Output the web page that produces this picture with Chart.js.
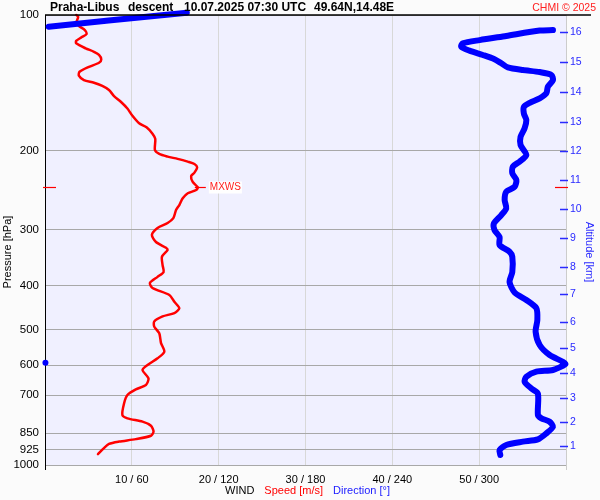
<!DOCTYPE html>
<html><head><meta charset="utf-8">
<script src="https://cdn.jsdelivr.net/npm/chart.js@4/dist/chart.umd.min.js"></script>
<style>html,body{margin:0;padding:0;background:#fbfbfb}#wrap{width:600px;height:500px}</style>
</head><body><div id="wrap"><canvas id="c" width="600" height="500"></canvas></div>
<script>
const titleParts = ["Praha-Libus", "descent", "10.07.2025 07:30 UTC", "49.64N,14.48E"];
const titleX = [50, 128, 184, 314];
const copyright = "CHMI © 2025";
const pressureTicks = [100, 200, 300, 400, 500, 600, 700, 850, 925, 1000];
const speedTicks = [10, 20, 30, 40, 50];
const altKm = [1, 2, 3, 4, 5, 6, 7, 8, 9, 10, 11, 12, 13, 14, 15, 16];
const altP = [907, 803, 710, 625, 550, 481, 417, 363, 313, 270, 233, 201, 173, 148, 127, 109];

const speedP = [100,101,104.3,105.8,108,110.2,112.1,114.2,115.6,118.6,
  120.7,122.7,125.5,127.7,130.4,133.7,136.4,139.5,141.4,143.8,
  146.8,151.4,155.9,161.4,167.5,174,177.6,183.5,188.5,199.5,
  203.6,206.4,208.8,211.8,214.3,218,224,228,235,241.5,
  244.8,249,255.5,264.4,271.2,282.8,289.9,297.4,308.2,319.5,
  329.1,332.8,344.5,359.4,372.4,381.9,394.1,404.2,419,433.9,
  448.4,459.5,467.4,479.7,492.6,509.8,535.8,560,579.3,599.5,
  615,642,664,679,699,729,774,787.5,801,818,
  842,861,876,887,897.5,917,946];
const speedV = [3.61,3.82,3.59,3.90,4.59,4.79,4.21,3.59,3.59,4.68,
  5.64,6.22,6.48,6.22,5.06,3.98,3.90,4.48,5.64,6.60,
  7.37,7.95,8.73,9.49,10.07,10.84,11.69,12.38,12.70,12.66,
  13.16,14.12,15.28,16.44,17.21,17.52,17.21,16.83,17.01,17.6,
  17.41,16.44,15.86,15.47,15.09,14.78,14.12,12.96,12.31,12.78,
  13.94,14.12,13.47,13.54,13.66,12.96,12.08,12.38,14.32,14.90,
  15.47,14.90,13.54,12.58,12.58,13.16,13.36,13.74,12.96,11.81,
  11.23,11.92,11.62,10.46,9.49,9.11,8.91,9.49,11.23,12.20,
  12.50,12.20,10.46,8.53,7.37,6.79,6.10];

const dirP = [108.0,108.3,111.3,113.7,115.6,117.6,120.0,122.7,125.4,128.0,
  130.7,132.5,133.9,135.9,139.5,144.3,149.3,153.2,156.7,160.0,
  165.6,171.1,178.6,186.5,194.5,204.7,211.8,217.2,224.8,232.6,
  240.9,247.1,257.7,268.9,278.3,290.4,300.5,311.4,324.4,335.7,
  344.5,372.4,392.2,413.7,429.9,448.2,476.2,505.5,541.2,569.6,
  589.9,597,615.0,620.2,636.6,653.4,676.1,694.2,774.3,787.5,
  801.3,822.3,850.5,876.8,887.4,902.7,926.1,950.1];
const dirD = [351.0,341.8,318.7,300.3,288.7,287.6,293.3,302.5,310.6,315.3,
  319.8,330.2,341.8,349.9,351.0,347.5,346.4,341.8,334.9,330.9,
  330.9,332.6,331.4,328.6,328.6,332.6,327.9,323.3,322.9,325.7,
  324.5,318.7,317.6,318.7,315.3,310.2,310.6,314.1,314.1,321.0,
  322.9,322.9,321.0,324.5,332.6,339.5,340.2,339.0,341.8,348.7,
  357.9,359.5,351.0,339.5,332.6,331.4,336.1,340.6,340.6,343.0,
  348.7,351.0,346.4,340.6,330.2,318.7,314.1,314.6];
const dirTopP = [106.2, 102.9, 98.8];
const dirTopD = [2.6, 44, 98];
const dirWrapP = [593];
const dirWrapD = [0.3];
const mxwsP = 241.5;
const mxwsV = 17.6;

Chart.defaults.font.family = 'Arial, "Liberation Sans", sans-serif';

const deco = {
  id: 'deco',
  beforeDraw(chart) {
    const {ctx, chartArea: a} = chart;
    ctx.save();
    ctx.fillStyle = '#fbfbfb';
    ctx.fillRect(0, 0, chart.width, chart.height);
    ctx.fillStyle = '#f0f0ff';
    ctx.fillRect(a.left, a.top, a.right - a.left, a.bottom - a.top);
    ctx.restore();
  },
  afterDraw(chart) {
    const {ctx, chartArea: a, scales} = chart;
    ctx.save();
    ctx.strokeStyle = '#000'; ctx.lineWidth = 1.5;
    ctx.beginPath(); ctx.moveTo(a.left, a.top); ctx.lineTo(591, a.top); ctx.stroke();
    ctx.lineWidth = 1;
    ctx.beginPath(); ctx.moveTo(a.left + 0.5, a.bottom); ctx.lineTo(a.left + 0.5, a.bottom + 5); ctx.stroke();
    ctx.strokeStyle = '#cccccc';
    ctx.beginPath(); ctx.moveTo(a.right + 0.5, a.bottom); ctx.lineTo(a.right + 0.5, a.bottom + 5); ctx.stroke();
    ctx.fillStyle = '#000';
    ctx.font = 'bold 12px Arial, "Liberation Sans", sans-serif';
    ctx.textBaseline = 'alphabetic';
    ctx.textAlign = 'left';
    titleParts.forEach((t, i) => ctx.fillText(t, titleX[i], 11));
    ctx.font = '10.5px Arial, "Liberation Sans", sans-serif';
    ctx.fillStyle = '#ff2020';
    ctx.textAlign = 'right';
    ctx.fillText(copyright, 596, 11);
    ctx.strokeStyle = '#2a2aff'; ctx.lineWidth = 1.5;
    altP.forEach(p => {
      const y = Math.round(scales.y2.getPixelForValue(p)) + 0.5;
      ctx.beginPath(); ctx.moveTo(a.right - 6, y); ctx.lineTo(a.right + 2, y); ctx.stroke();
    });
    const my = Math.round(scales.y.getPixelForValue(mxwsP)) + 0.5;
    const mx = scales.x.getPixelForValue(mxwsV);
    ctx.strokeStyle = '#ff0000'; ctx.lineWidth = 1.2;
    ctx.beginPath(); ctx.moveTo(a.left - 2, my); ctx.lineTo(a.left + 11, my); ctx.stroke();
    ctx.beginPath(); ctx.moveTo(a.right - 11, my); ctx.lineTo(a.right + 2, my); ctx.stroke();
    ctx.beginPath(); ctx.moveTo(mx - 3, my); ctx.lineTo(mx + 8, my); ctx.stroke();
    ctx.font = '10px Arial, "Liberation Sans", sans-serif';
    ctx.textAlign = 'left'; ctx.textBaseline = 'middle';
    const tw = ctx.measureText('MXWS').width;
    ctx.fillStyle = '#ffffff';
    ctx.fillRect(mx + 11, my - 6, tw + 2, 12);
    ctx.fillStyle = '#ff2020';
    ctx.fillText('MXWS', mx + 12, my);
    ctx.font = '11px Arial, "Liberation Sans", sans-serif';
    ctx.textAlign = 'center';
    ctx.fillStyle = '#000';
    ctx.save(); ctx.translate(8, 252); ctx.rotate(-Math.PI / 2); ctx.fillText('Pressure [hPa]', 0, 0); ctx.restore();
    ctx.fillStyle = '#2a2aff';
    ctx.save(); ctx.translate(589, 252); ctx.rotate(Math.PI / 2); ctx.fillText('Altitude [km]', 0, 0); ctx.restore();
    ctx.textAlign = 'left';
    const parts = [['WIND', '#000'], ['Speed [m/s]', '#ff0000'], ['Direction [°]', '#2020ff']];
    let x = 225;
    parts.forEach(([t, c]) => { ctx.fillStyle = c; ctx.fillText(t, x, 491); x += ctx.measureText(t).width + 10; });
    ctx.restore();
  }
};

const toPts = (ps, vs) => ps.map((p, i) => ({x: vs[i], y: p}));

new Chart(document.getElementById('c'), {
  type: 'scatter',
  data: {
    datasets: [
      {label: 'dirWrap', data: toPts(dirWrapP, dirWrapD), xAxisID: 'x2', yAxisID: 'y', showLine: false,
        pointRadius: 3, pointBackgroundColor: '#0000ff', pointBorderWidth: 0, clip: false},
      {label: 'dirTop', data: toPts(dirTopP, dirTopD), xAxisID: 'x2', yAxisID: 'y', showLine: true,
        borderColor: '#0000ff', borderWidth: 6, pointRadius: 0, borderCapStyle: 'round', borderJoinStyle: 'round', clip: false},
      {label: 'dir', data: toPts(dirP, dirD), xAxisID: 'x2', yAxisID: 'y', showLine: true, tension: 0.25,
        borderColor: '#0000ff', borderWidth: 6, pointRadius: 0, borderCapStyle: 'round', borderJoinStyle: 'round', clip: false},
      {label: 'speed', data: toPts(speedP, speedV), xAxisID: 'x', yAxisID: 'y', showLine: true, tension: 0.25,
        borderColor: '#ff0000', borderWidth: 2.5, pointRadius: 0, borderCapStyle: 'round', borderJoinStyle: 'round', clip: false}
    ]
  },
  options: {
    responsive: false, animation: false, events: [],
    layout: {padding: {top: 15, left: 0, right: 0, bottom: 0}},
    plugins: {legend: {display: false}, tooltip: {enabled: false}, title: {display: false}},
    scales: {
      x: {type: 'linear', position: 'bottom', min: 0, max: 60,
        afterBuildTicks: s => { s.ticks = [0, ...speedTicks, 60].map(v => ({value: v})); },
        ticks: {callback: v => speedTicks.includes(v) ? `${v} / ${v * 6}` : '', color: '#000', font: {size: 11}, padding: 8, maxRotation: 0, autoSkip: false},
        grid: {color: c => (c.tick && speedTicks.includes(c.tick.value)) ? '#d8d8d8' : 'rgba(0,0,0,0)', drawTicks: false},
        border: {display: false},
        afterFit: s => { s.height = 35; }},
      x2: {type: 'linear', display: false, min: 0, max: 360},
      y: {type: 'logarithmic', position: 'left', reverse: true, min: 100, max: 1000,
        afterBuildTicks: s => { s.ticks = pressureTicks.map(v => ({value: v})); },
        ticks: {callback: v => String(v), color: '#000', font: {size: 11.5}, padding: 6, autoSkip: false},
        grid: {color: '#a8a8a8', drawTicks: false},
        border: {display: true, color: '#000', width: 1},
        afterFit: s => { s.width = 45; }},
      y2: {type: 'logarithmic', position: 'right', reverse: true, min: 100, max: 1000,
        afterBuildTicks: s => { s.ticks = altP.map(v => ({value: v})); },
        ticks: {callback: (v, i) => String(altKm[i]), color: '#2a2aff', font: {size: 10.5}, padding: 4, autoSkip: false},
        grid: {drawOnChartArea: false, drawTicks: false},
        border: {display: true, color: '#cccccc'},
        afterFit: s => { s.width = 34; }}
    }
  },
  plugins: [deco]
});
</script>
</body></html>
